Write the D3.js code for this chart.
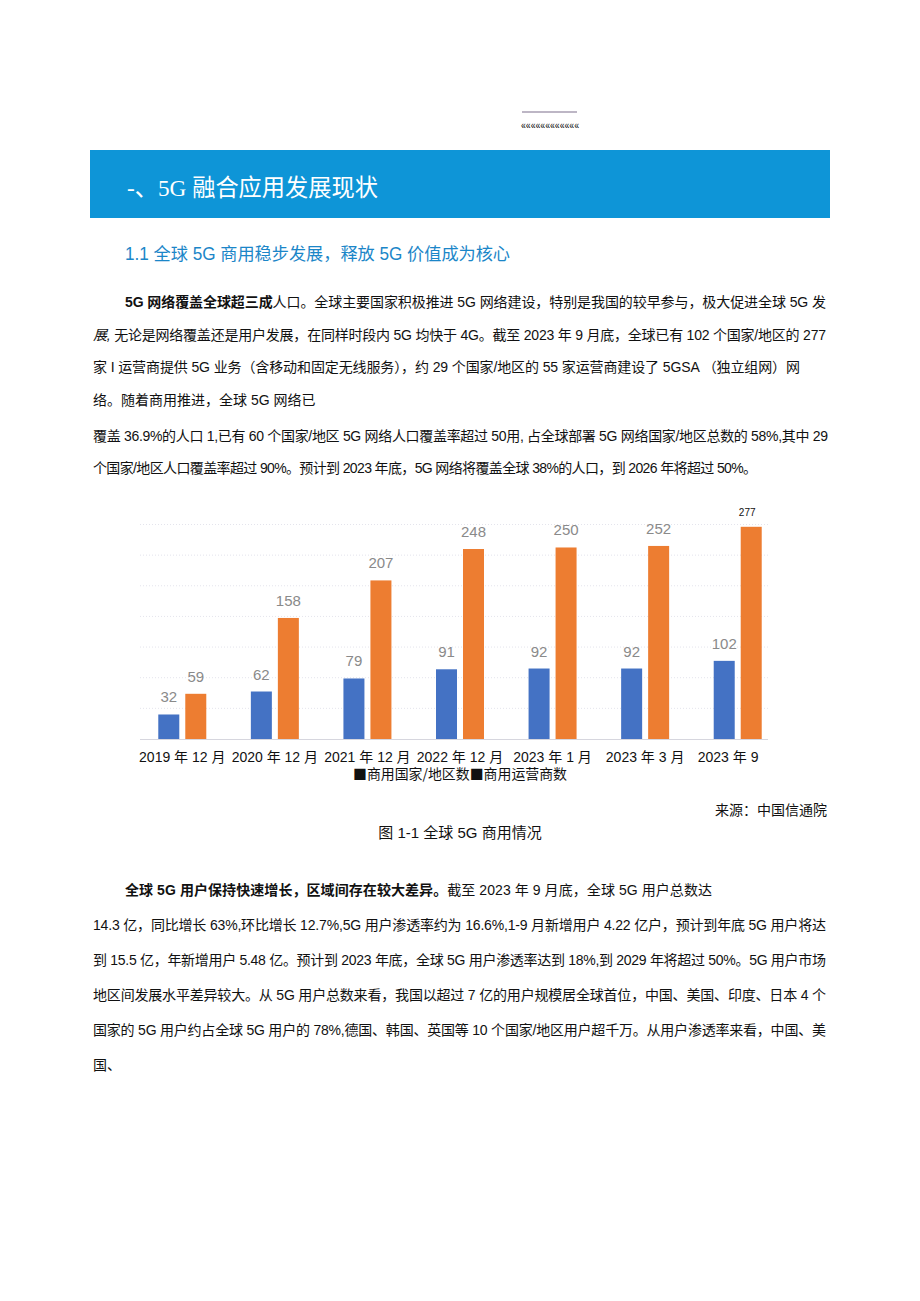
<!DOCTYPE html>
<html>
<head>
<meta charset="utf-8">
<script src="https://cdn.jsdelivr.net/npm/d3@7"></script>
<style>
  html, body { margin: 0; padding: 0; background: #fff; }
  svg { display: block; }
</style>
</head>
<body>
<svg id="page" width="920" height="1301"></svg>
<script>
// ---------- data ----------
const categories = ["2019 年 12 月", "2020 年 12 月", "2021 年 12 月", "2022 年 12 月", "2023 年 1 月", "2023 年 3 月", "2023 年 9"];
const seriesNames = ["商用国家/地区数", "商用运营商数"];
const countries = [32, 62, 79, 91, 92, 92, 102];
const operators = [59, 158, 207, 248, 250, 252, 277];
const yTicks = [0, 40, 80, 120, 160, 200, 240, 280];

const titleText = "-、5G 融合应用发展现状";
const subTitle = "1.1 全球 5G 商用稳步发展，释放 5G 价值成为核心";
const sourceText = "来源：中国信通院";
const figCaption = "图 1-1 全球 5G 商用情况";

// paragraph lines
const para1 = [
  {b: "5G 网络覆盖全球超三成", t: "人口。全球主要国家积极推进 5G 网络建设，特别是我国的较早参与，极大促进全球 5G 发", indent: true, end: 826},
  {i: "展,", t: " 无论是网络覆盖还是用户发展，在同样时段内 5G 均快于 4G。截至 2023 年 9 月底，全球已有 102 个国家/地区的 277", end: 826},
  {t: "家 I 运营商提供 5G 业务（含移动和固定无线服务），约 29 个国家/地区的 55 家运营商建设了 5GSA （独立组网）网", end: 800},
  {t: "络。随着商用推进，全球 5G 网络已"},
  {t: "覆盖 36.9%的人口 1,已有 60 个国家/地区 5G 网络人口覆盖率超过 50用, 占全球部署 5G 网络国家/地区总数的 58%,其中 29", end: 828},
  {t: "个国家/地区人口覆盖率超过 90%。预计到 2023 年底，5G 网络将覆盖全球 38%的人口，到 2026 年将超过 50%。", end: 757}
];
const para1Y = [302, 335, 367, 400, 436, 468];
const para2 = [
  {b: "全球 5G 用户保持快速增长，区域间存在较大差异。", t: "截至 2023 年 9 月底，全球 5G 用户总数达", indent: true, end: 712},
  {t: "14.3 亿，同比增长 63%,环比增长 12.7%,5G 用户渗透率约为 16.6%,1-9 月新增用户 4.22 亿户，预计到年底 5G 用户将达", end: 826},
  {t: "到 15.5 亿，年新增用户 5.48 亿。预计到 2023 年底，全球 5G 用户渗透率达到 18%,到 2029 年将超过 50%。5G 用户市场", end: 826},
  {t: "地区间发展水平差异较大。从 5G 用户总数来看，我国以超过 7 亿的用户规模居全球首位，中国、美国、印度、日本 4 个", end: 826},
  {t: "国家的 5G 用户约占全球 5G 用户的 78%,德国、韩国、英国等 10 个国家/地区用户超千万。从用户渗透率来看，中国、美", end: 826},
  {t: "国、"}
];
const para2Y = [890, 925, 960, 995, 1030, 1065];

// ---------- page ----------
const svg = d3.select("#page");
const FONT = "'Liberation Sans', Arial, 'Noto Sans CJK SC', sans-serif";
svg.append("rect").attr("width", 920).attr("height", 1301).attr("fill", "#fff");

// header ornament
svg.append("line").attr("x1", 522).attr("x2", 577).attr("y1", 112).attr("y2", 112)
  .attr("stroke", "#7d6f8c").attr("stroke-width", 1.2);
svg.append("text").attr("x", 521).attr("y", 129).attr("font-size", 11)
  .attr("font-family", FONT).attr("textLength", 58).attr("lengthAdjust", "spacingAndGlyphs")
  .text("««««««««««««");

// banner
svg.append("rect").attr("x", 90).attr("y", 150).attr("width", 740).attr("height", 68).attr("fill", "#0e95d7");
svg.append("text").attr("x", 127).attr("y", 196).attr("fill", "#fff").attr("font-size", 24)
  .attr("font-family", "'Liberation Serif', 'Noto Sans CJK SC', serif")
  .attr("textLength", 251).attr("lengthAdjust", "spacingAndGlyphs")
  .text(titleText);

// subtitle
svg.append("text").attr("x", 125).attr("y", 260).attr("fill", "#1b86c8").attr("font-size", 17.5)
  .attr("font-family", FONT).attr("textLength", 385).attr("lengthAdjust", "spacingAndGlyphs")
  .text(subTitle);

function drawPara(lines, ys) {
  lines.forEach((ln, k) => {
    const x0 = ln.indent ? 125 : 93;
    const t = svg.append("text").attr("x", x0).attr("y", ys[k] + 5)
      .attr("font-size", 14).attr("font-family", FONT).attr("fill", "#111");
    if (ln.b) t.append("tspan").attr("font-weight", 600).text(ln.b);
    if (ln.i) t.append("tspan").attr("font-style", "italic").text(ln.i);
    t.append("tspan").text(ln.t);
    if (ln.end) {
      const nat = t.node().getComputedTextLength();
      const n = (ln.b || "").length + (ln.i || "").length + ln.t.length;
      const ls = (ln.end - x0 - nat) / (n - 1);
      t.attr("letter-spacing", ls);
    }
  });
}
drawPara(para1, para1Y);
drawPara(para2, para2Y);

// ---------- chart ----------
const baseY = 739, topY = 524.5;
const gridL = 140, gridR = 768;
const x0 = d3.scaleBand().domain(categories).range([136, 784]).paddingInner(0).paddingOuter(0);
const x1 = d3.scaleBand().domain(seriesNames).range([x0.bandwidth() / 2 - 24, x0.bandwidth() / 2 + 24]).paddingInner(0.222);
const y = d3.scaleLinear().domain([0, 280]).range([baseY, topY]);
const color = d3.scaleOrdinal().domain(seriesNames).range(["#4472c4", "#ed7d31"]);

const chart = svg.append("g");
// grid
chart.selectAll("line.grid").data(yTicks.slice(1)).join("line")
  .attr("class", "grid")
  .attr("x1", gridL).attr("x2", gridR)
  .attr("y1", d => y(d)).attr("y2", d => y(d))
  .attr("stroke", "#e4e4ec").attr("stroke-width", 1).attr("stroke-dasharray", "1,2");
// baseline
chart.append("line").attr("x1", gridL).attr("x2", gridR).attr("y1", baseY + 0.5).attr("y2", baseY + 0.5)
  .attr("stroke", "#d6d6de").attr("stroke-width", 1);

const rows = categories.map((c, i) => ({cat: c, i, vals: [
  {s: seriesNames[0], v: countries[i]},
  {s: seriesNames[1], v: operators[i]}
]}));

const groups = chart.selectAll("g.cat").data(rows).join("g")
  .attr("class", "cat").attr("transform", d => `translate(${x0(d.cat)},0)`);

groups.selectAll("rect").data(d => d.vals).join("rect")
  .attr("x", d => x1(d.s)).attr("width", x1.bandwidth())
  .attr("y", d => y(d.v)).attr("height", d => baseY - y(d.v))
  .attr("fill", d => color(d.s));

groups.selectAll("text.val").data(d => d.vals.map(v => ({...v, last: d.i === categories.length - 1}))).join("text")
  .attr("class", "val")
  .attr("x", d => x1(d.s) + x1.bandwidth() / 2 - (d.last && d.s === seriesNames[1] ? 4 : 0))
  .attr("y", d => y(d.v) - (d.last && d.s === seriesNames[1] ? 11 : 12))
  .attr("text-anchor", "middle")
  .attr("font-family", FONT)
  .attr("font-size", d => d.last && d.s === seriesNames[1] ? 10 : 15)
  .attr("fill", d => d.last && d.s === seriesNames[1] ? "#111" : "#8a8a8a")
  .text(d => d.v);

// x axis labels
chart.selectAll("text.xl").data(categories).join("text")
  .attr("class", "xl")
  .attr("x", (d, i) => i === categories.length - 1 ? x0(d) + x0.bandwidth() / 2 - 40 : x0(d) + x0.bandwidth() / 2)
  .attr("text-anchor", (d, i) => i === categories.length - 1 ? "start" : "middle")
  .attr("y", 762).attr("font-size", 14).attr("font-family", FONT).attr("fill", "#111")
  .text(d => d);

// legend
svg.append("text").attr("x", 460).attr("y", 779).attr("text-anchor", "middle")
  .attr("font-size", 14).attr("font-family", "'Noto Sans CJK SC', sans-serif").attr("fill", "#111")
  .attr("textLength", 214).attr("lengthAdjust", "spacingAndGlyphs")
  .text(seriesNames.map(s => "■" + s).join(""));

// source & caption
svg.append("text").attr("x", 827).attr("y", 815).attr("text-anchor", "end")
  .attr("font-size", 14).attr("font-family", FONT).attr("fill", "#111").text(sourceText);
svg.append("text").attr("x", 460).attr("y", 838).attr("text-anchor", "middle")
  .attr("font-size", 15).attr("font-family", FONT).attr("fill", "#111").text(figCaption);
</script>
</body>
</html>
